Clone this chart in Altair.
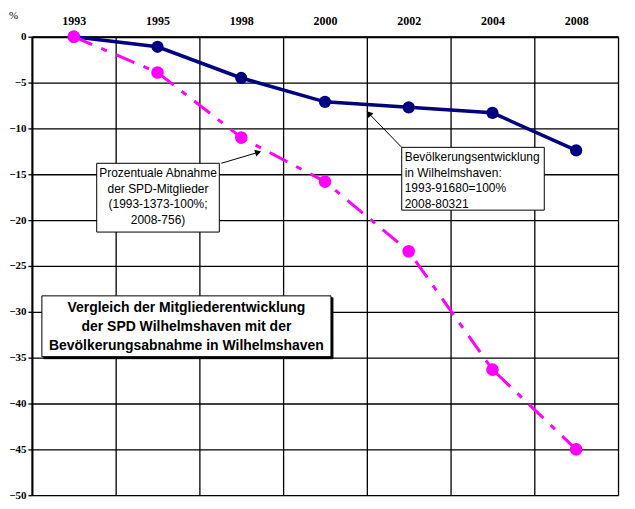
import altair as alt
import pandas as pd

years = ["1993", "1995", "1998", "2000", "2002", "2004", "2008"]
bevoelkerung = [0.0, -1.1, -4.5, -7.1, -7.7, -8.3, -12.4]
spd = [0.0, -3.9, -11.0, -15.8, -23.4, -36.3, -45.0]
y_ticks = [0, -5, -10, -15, -20, -25, -30, -35, -40, -45, -50]

df = pd.DataFrame({
    "Jahr": years * 2,
    "Wert": bevoelkerung + spd,
    "Reihe": ["Bevölkerung"] * len(years) + ["SPD"] * len(years),
})

W, H = 588, 460

x = alt.X("Jahr:N", sort=years, scale=alt.Scale(paddingInner=0, paddingOuter=0),
          axis=alt.Axis(orient="top", title=None, labelAngle=0, tickBand="extent",
                        grid=True, gridColor="#000000", gridOpacity=1, gridWidth=1.3,
                        ticks=False, domainColor="#000000", domainWidth=2,
                        labelFont="Liberation Serif", labelFontWeight="bold",
                        labelFontSize=12, labelColor="black", labelPadding=9))
y = alt.Y("Wert:Q", scale=alt.Scale(domain=[-50, 0], nice=False),
          axis=alt.Axis(title=None, values=y_ticks, grid=True, gridColor="#000000",
                        gridOpacity=1, gridWidth=1.3, tickColor="#000000", tickSize=4,
                        tickWidth=1.3, domainColor="#000000", domainWidth=2,
                        labelFont="Liberation Serif", labelFontWeight="bold",
                        labelFontSize=11, labelColor="black", labelPadding=2))

base = alt.Chart(df)

blue = base.transform_filter(alt.datum.Reihe == "Bevölkerung")
mag = base.transform_filter(alt.datum.Reihe == "SPD")

blue_line = blue.mark_line(color="#000080", strokeWidth=3.5).encode(x=x, y=y)
blue_pts = blue.mark_circle(color="#000080", size=150, opacity=1).encode(x=x, y=y)
mag_line = mag.mark_line(color="#FF00FF", strokeWidth=3, strokeDash=[20, 10, 6, 10]).encode(x=x, y=y)
mag_pts = mag.mark_circle(color="#FF00FF", size=160, opacity=1).encode(x=x, y=y)

dummy = alt.Chart(pd.DataFrame({"a": [0]}))

def box(x1, y1, x2, y2, fill="white", stroke="black", sw=1):
    return dummy.mark_rect(fill=fill, stroke=stroke, strokeWidth=sw).encode(
        x=alt.value(x1), x2=alt.value(x2), y=alt.value(y1), y2=alt.value(y2))

def txt(s, xx, yy, align="left", bold=False, size=12):
    return dummy.mark_text(text=s, align=align, baseline="middle",
                           font="Liberation Sans", fontSize=size,
                           fontWeight="bold" if bold else "normal", color="black").encode(
        x=alt.value(xx), y=alt.value(yy))

def arrow(x1, y1, x2, y2, ang):
    line = dummy.mark_rule(color="black", strokeWidth=1).encode(
        x=alt.value(x1), y=alt.value(y1), x2=alt.value(x2), y2=alt.value(y2))
    head = dummy.mark_point(shape="triangle-up", filled=True, color="black", size=50,
                            angle=ang, opacity=1).encode(x=alt.value(x2), y=alt.value(y2))
    return [line, head]

layers = [blue_line, mag_line, blue_pts, mag_pts]

# annotation 1 (SPD)
layers += arrow(190, 127, 227, 116, 73)
layers.append(box(65, 127, 188, 196))
for i, s in enumerate(["Prozentuale Abnahme", "der SPD-Mitglieder", "(1993-1373-100%;", "2008-756)"]):
    layers.append(txt(s, 126.5, 137 + i * 15.5, align="center"))

# annotation 2 (Bevölkerung)
layers += arrow(371, 111, 338, 77, 317)
layers.append(box(371, 111, 514, 174))
for i, s in enumerate(["Bevölkerungsentwicklung", "in Wilhelmshaven:", "1993-91680=100%", "2008-80321"]):
    layers.append(txt(s, 374, 121 + i * 15.5))

# title box
layers.append(box(12, 262, 302, 323, fill="black", stroke="black"))
layers.append(box(10, 260, 300, 321))
for i, s in enumerate(["Vergleich der Mitgliederentwicklung",
                       "der SPD Wilhelmshaven mit der",
                       "Bevölkerungsabnahme in Wilhelmshaven"]):
    layers.append(txt(s, 155, 272 + i * 19, align="center", bold=True, size=14))

# percent sign
layers.append(dummy.mark_text(text="%", font="Liberation Serif", fontSize=11, color="black",
                              align="left", baseline="middle").encode(x=alt.value(-23), y=alt.value(-21)))

chart = alt.layer(*layers).properties(
    width=W, height=H,
    autosize=alt.AutoSizeParams(type="none"),
    padding={"left": 24, "top": 28, "right": 9, "bottom": 5},
).configure_view(stroke="#808080", strokeWidth=1.5).configure(background="white")

chart.save("out.html", embed_options={"renderer": "svg", "actions": False})
